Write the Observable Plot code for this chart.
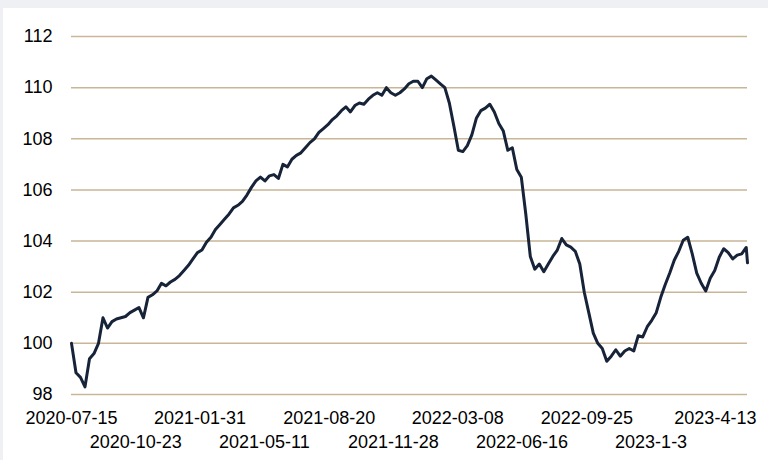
<!DOCTYPE html>
<html>
<head>
<meta charset="utf-8">
<script src="https://cdn.jsdelivr.net/npm/d3@7"></script>
<script src="https://cdn.jsdelivr.net/npm/@observablehq/plot@0.6"></script>
<style>
  html, body { margin: 0; padding: 0; background: #eff0f4; }
  #frame { position: relative; width: 768px; height: 460px; overflow: hidden; }
  #panel { position: absolute; left: 3px; top: 8px; right: 0; bottom: 0; background: #ffffff; }
  #chart { position: absolute; left: 0; top: 0; }
</style>
</head>
<body>
<div id="frame"><div id="panel"></div><div id="chart"></div></div>
<script>
// ---- data ----
const startDate = "2020-07-15";
const stepDays = 7;
const values = [
  100.0, 98.85, 98.67, 98.3, 99.4, 99.6, 100.0, 101.0, 100.6, 100.85,
  100.95, 101.0, 101.05, 101.2, 101.3, 101.4, 101.0, 101.8, 101.9, 102.05,
  102.35, 102.25, 102.4, 102.5, 102.65, 102.85, 103.05, 103.3, 103.55, 103.65,
  103.95, 104.15, 104.45, 104.65, 104.85, 105.05, 105.3, 105.4, 105.55, 105.8,
  106.1, 106.35, 106.5, 106.35, 106.55, 106.6, 106.45, 107.0, 106.9, 107.2,
  107.35, 107.45, 107.65, 107.85, 108.0, 108.25, 108.4, 108.55, 108.75, 108.9,
  109.1, 109.25, 109.05, 109.3, 109.4, 109.35, 109.55, 109.7, 109.8, 109.7,
  110.0, 109.8, 109.7, 109.8, 109.95, 110.15, 110.25, 110.25, 110.0, 110.35,
  110.45, 110.3, 110.15, 110.0, 109.4, 108.5, 107.55, 107.5, 107.73, 108.15,
  108.8, 109.1, 109.2, 109.35, 109.05, 108.6, 108.3, 107.55, 107.65, 106.8,
  106.5, 105.05, 103.4, 102.9, 103.1, 102.8, 103.1, 103.4, 103.65, 104.1,
  103.85, 103.76, 103.6, 103.1, 102.0, 101.2, 100.4, 100.0, 99.8, 99.3,
  99.5, 99.75, 99.5, 99.7, 99.8, 99.7, 100.3, 100.25, 100.65, 100.9,
  101.2, 101.8, 102.3, 102.75, 103.25, 103.6, 104.03, 104.15, 103.5, 102.75,
  102.35, 102.05, 102.55, 102.85, 103.37, 103.7, 103.55, 103.3, 103.45, 103.5,
  103.75
];
const endDate = "2023-06-02";
const endValue = 103.15;
const yTicks = [98, 100, 102, 104, 106, 108, 110, 112];
const xTickLabels = [
  "2020-07-15", "2020-10-23", "2021-01-31", "2021-05-11", "2021-08-20",
  "2021-11-28", "2022-03-08", "2022-06-16", "2022-09-25", "2023-1-3", "2023-4-13"
];

// ---- build ----
const parseDate = s => { const [y, m, d] = s.split("-").map(Number); return new Date(Date.UTC(y, m - 1, d)); };
const start = parseDate(startDate);
const data = values.map((v, i) => ({date: d3.utcDay.offset(start, i * stepDays), value: v}));
data.push({date: parseDate(endDate), value: endValue});

const tickDates = xTickLabels.map(parseDate);
const labelOf = new Map(xTickLabels.map(s => [+parseDate(s), s]));
const row1 = tickDates.filter((d, i) => i % 2 === 0);
const row2 = tickDates.filter((d, i) => i % 2 === 1);

const font = "'Liberation Sans', Arial, Helvetica, sans-serif";

const chart = Plot.plot({
  width: 768,
  height: 460,
  marginLeft: 71,
  marginRight: 21,
  marginTop: 36,
  marginBottom: 66,
  style: {background: "transparent", fontFamily: font, fontSize: "18px", color: "#000"},
  x: {type: "utc", domain: [start, parseDate(endDate)], axis: null},
  y: {domain: [98, 112], axis: null},
  marks: [
    Plot.ruleY(yTicks, {stroke: "#c9b696", strokeWidth: 1.5}),
    Plot.axisY(yTicks, {tickSize: 0, tickPadding: 19, fontSize: 18, fill: "#000", label: null}),
    Plot.axisX(row1, {tickSize: 0, tickPadding: 17, fontSize: 18, fill: "#000", label: null, tickFormat: d => labelOf.get(+d)}),
    Plot.axisX(row2, {tickSize: 0, tickPadding: 41, fontSize: 18, fill: "#000", label: null, tickFormat: d => labelOf.get(+d)}),
    Plot.line(data, {x: "date", y: "value", stroke: "#172338", strokeWidth: 3, strokeLinejoin: "round", strokeLinecap: "round"})
  ]
});
document.getElementById("chart").appendChild(chart);
</script>
</body>
</html>
